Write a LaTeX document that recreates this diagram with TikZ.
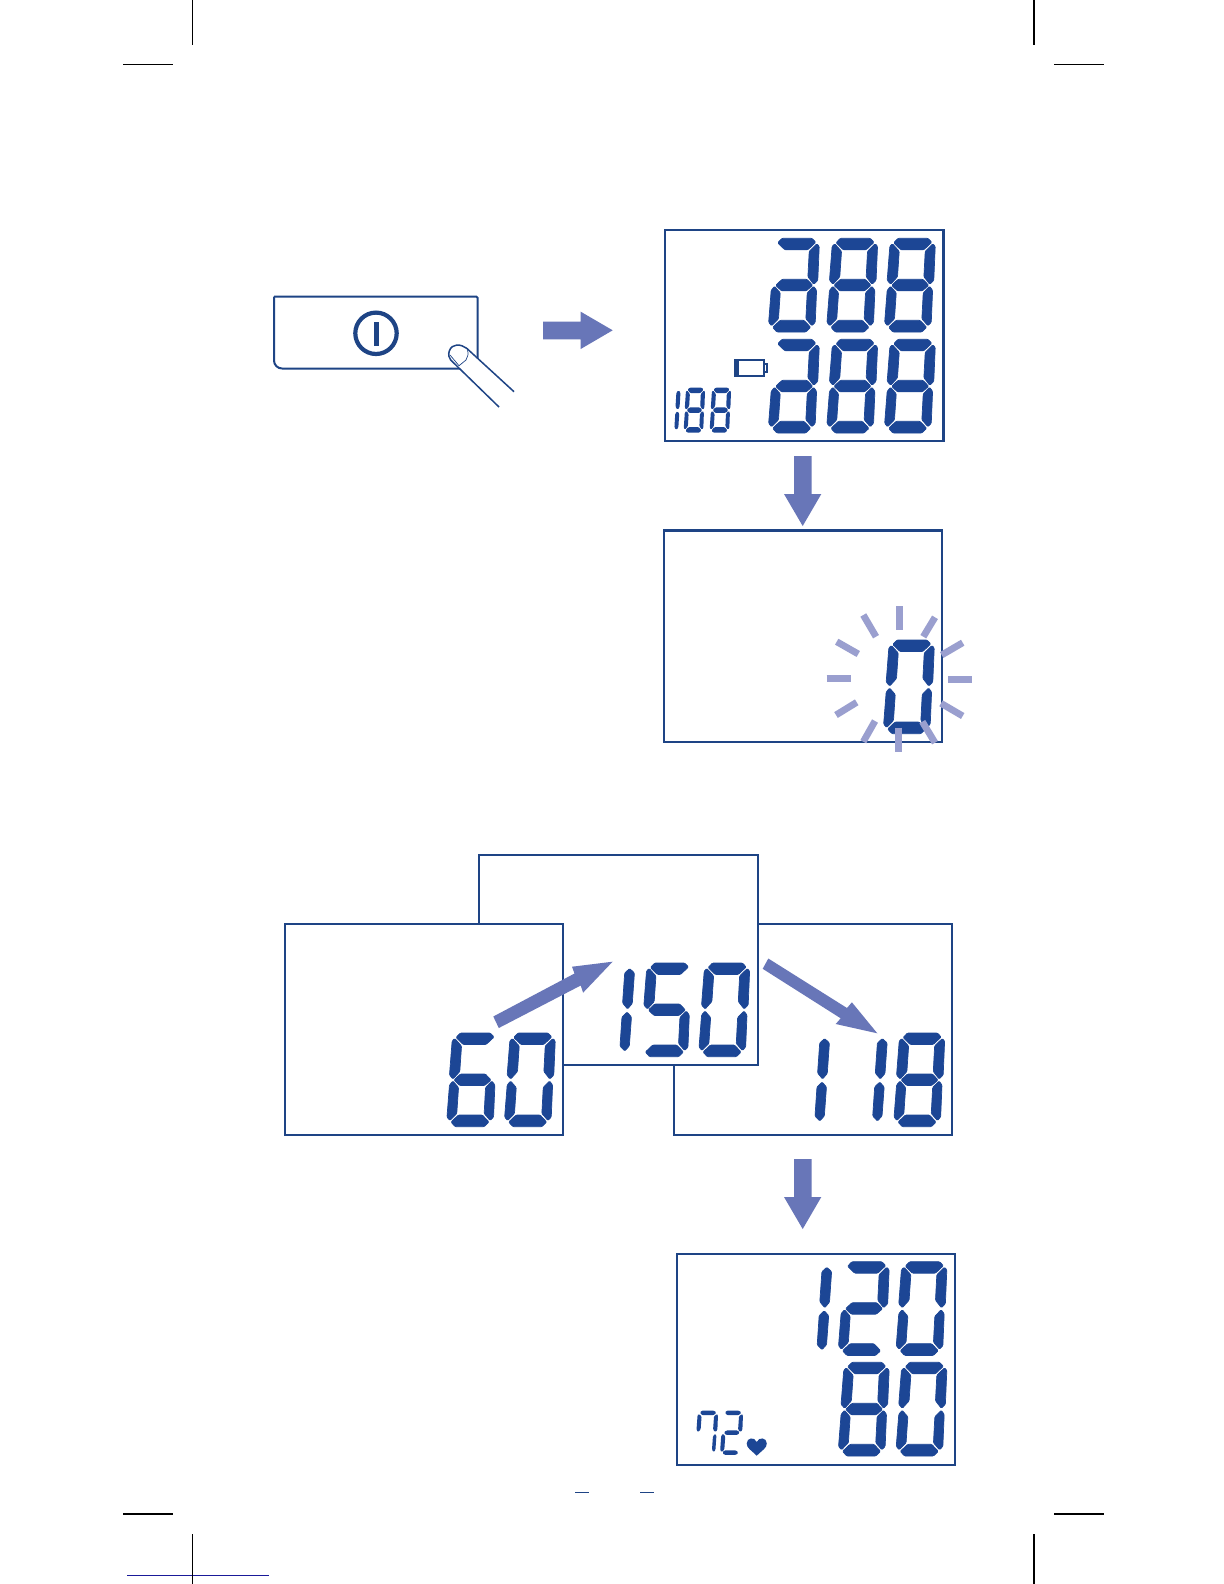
\documentclass[tikz,border=0pt]{standalone}
\definecolor{lcdblue}{HTML}{1C4695}
\definecolor{framecol}{HTML}{1E4485}
\definecolor{arrowcol}{HTML}{6876B8}
\definecolor{raycol}{HTML}{9A9FCF}
\definecolor{rulecol}{HTML}{1A1A99}
\tikzset{
  lcdpanel/.style={draw=framecol,fill=white,line width=1.05bp,line join=miter},
  lcdsegment/.style={fill=lcdblue,rounded corners=.5bp},
  blockarrow/.style={fill=arrowcol},
  flashray/.style={draw=raycol,line width=3.4bp},
  cropmark/.style={draw=black,line width=.55bp},
  fingerline/.style={draw=framecol,fill=white,line width=.75bp,line join=round}
}
% standard segments, local box 46 x 94
\def\lcdsa{(8,0)--(38,0)--(42,4)--(34.5,11.5)--(11.5,11.5)--(4,4.5)--cycle}
\def\lcdsf{(2.8,5.5)--(10,13)--(9.8,38.5)--(3.5,46)--(-.3,42)--(.3,8)--cycle}
\def\lcdsb{(43.2,5.5)--(36,13)--(36.2,38.5)--(42.5,46)--(46.3,42)--(45.7,8)--cycle}
\def\lcdsg{(10.5,41)--(35.5,41)--(41.5,47)--(35.5,52.5)--(10.5,52.5)--(4.5,47)--cycle}
\def\lcdse{(3.5,48)--(9.5,54.5)--(9.3,80.5)--(2.8,87.5)--(-.3,84)--(.3,52)--cycle}
\def\lcdsc{(42.5,48)--(36.5,54.5)--(36.7,80.5)--(43.2,87.5)--(46.3,84)--(45.7,52)--cycle}
\def\lcdsd{(11,82)--(35,82)--(42,89)--(37.5,93.7)--(8.5,93.7)--(4,89)--cycle}
% pointed strokes of a figure one
\def\lcdsp{(41,5.5)--(46,10)--(45.7,40.5)--(41.3,46)--(36,40)--(36.3,10)--cycle}
\def\lcdsq{(41,49)--(45.7,54)--(45.3,83)--(41,88)--(36,83)--(36.2,54)--cycle}
% thin segments for the pulse figure
\def\lcdsA{(8,0)--(38,0)--(43,4.5)--(37,9.5)--(10,9.5)--(5,4.5)--cycle}
\def\lcdsF{(1.5,7)--(9,11.5)--(8.5,40)--(3,45.5)--(-1,41)--(-.5,10)--cycle}
\def\lcdsB{(45,7)--(38,11.5)--(37.5,40)--(43,45.5)--(47.5,41)--(47,10)--cycle}
\def\lcdsG{(10,42)--(37,42)--(41.5,47)--(37,51.5)--(10,51.5)--(5,47)--cycle}
\def\lcdsE{(3,49)--(8.5,54)--(8,83)--(2,88)--(-1.5,84)--(-1,53)--cycle}
\def\lcdsC{(43.5,49)--(38,54)--(37.5,83)--(41.5,88)--(45.5,84)--(46,53)--cycle}
\def\lcdsD{(8,84.5)--(36,84.5)--(41,89.5)--(36,94)--(9,94)--(4,89.5)--cycle}
\newcommand\lcdseg[1]{\expandafter\let\expandafter\lcdcur\csname lcds#1\endcsname\fill[lcdsegment] \lcdcur;}
\newcommand\lcddigit[5]{\begin{scope}[shift={(#1,#2)},xscale=#3,yscale=#4,xslant=.06]
  \foreach \lcdname in {#5}{\lcdseg{\lcdname}}
\end{scope}}
\newcommand\bigdigit[3]{\begingroup\tikzset{lcdsegment/.append style={draw=lcdblue,line width=.35bp,line join=round}}\lcddigit{#1}{#2}{1}{1}{#3}\endgroup}
\newcommand\downarrowblock[1]{\fill[blockarrow] (794,#1)--(811.7,#1)--(811.7,#1+38)--(821.3,#1+38)--(802.7,#1+70)--(784,#1+38)--(794,#1+38)--cycle;}
\begin{document}
\begin{tikzpicture}[x=.5bp,y=-.5bp]
\useasboundingbox (0,0) rectangle (1224,1584);
\fill[white] (0,0) rectangle (1224,1584);

% crop marks
\draw[cropmark] (192.5,0)--(192.5,45);
\draw[cropmark] (1034,0)--(1034,45);
\draw[cropmark] (123,64.3)--(173,64.3);
\draw[cropmark] (1054,64.3)--(1104,64.3);
\draw[cropmark] (123,1514)--(173,1514);
\draw[cropmark] (1054,1514)--(1104,1514);
\draw[cropmark] (1034,1534)--(1034,1584);
\draw[rulecol,line width=.5bp] (127,1575.3)--(269,1575.3);
\draw[cropmark] (192.5,1534)--(192.5,1584);
\draw[framecol,line width=.55bp] (575,1492.3)--(589,1492.3);
\draw[framecol,line width=.55bp] (640,1492.3)--(654,1492.3);

% button
\draw[framecol,line width=1bp,rounded corners=.7bp] (274,296.5)--(477.7,296.5)--(477.7,368.5)--(282,368.5);
\draw[framecol,line width=1bp] (282,368.5) arc[start angle=90,end angle=180,radius=8]--(274,296.5);
\draw[framecol,line width=2.1bp] (376,333.3) circle[radius=20.7];
\fill[framecol] (373.5,321.7) rectangle (378.5,345.7);
\draw[fingerline] (514,391.7)--(466.7,348.3) .. controls (461,344) and (452,343) .. (449.3,351) .. controls (448,355) and (449,358) .. (450.7,360)--(499,407);
\draw[framecol,line width=.35bp] (450,355)--(459,365.7)--(466,360) .. controls (468,357) and (468.5,354) .. (467.5,349.5);

% arrow to first display
\fill[blockarrow] (543,321.7)--(580.7,321.7)--(580.7,311.7)--(612.7,330.3)--(580.7,349)--(580.7,339.3)--(543,339.3)--cycle;

% display: all segments
\draw[lcdpanel] (665,230) rectangle (943.5,441);
\bigdigit{774}{238.3}{a,b,g,e,c,d}
\bigdigit{832.3}{238.3}{a,b,f,g,e,c,d}
\bigdigit{890}{238.3}{a,b,f,g,e,c,d}
\bigdigit{774}{339.3}{a,b,g,e,c,d}
\bigdigit{832.3}{339.3}{a,b,f,g,e,c,d}
\bigdigit{890}{339.3}{a,b,f,g,e,c,d}
\lcddigit{661.4}{387.7}{.42}{.48}{p,q}
\lcddigit{686}{387.7}{.42}{.48}{a,b,f,g,e,c,d}
\lcddigit{712}{387.7}{.42}{.48}{a,b,f,g,e,c,d}
% battery
\draw[framecol,line width=1bp] (735,360) rectangle (763.5,376);
\draw[framecol,line width=1bp] (763.5,364)--(766.5,364)--(766.5,372)--(763.5,372);
\fill[framecol] (735,360) rectangle (738.5,376);

\downarrowblock{456}

% display: flashing zero
\draw[lcdpanel] (664,530.5) rectangle (941.7,741.7);
\bigdigit{889}{640}{a,b,f,e,c,d}
\foreach \xa/\ya/\xb/\yb in {
  899.7/606.3/899.7/630, 935/617.3/923.3/636.7, 962.7/642.7/941.7/655,
  948/679.3/971.7/679.3, 941/703.3/962.7/716, 922.3/721.7/935/742.7,
  898.3/727.7/898.3/751.7, 875/721/863.3/741.7, 856.7/702.3/836/715,
  826.7/678.3/850.7/678.3, 858.3/654/836.7/641.7, 876/636.7/863.3/615}
  {\draw[flashray] (\xa,\ya)--(\xb,\yb);}

% cuff pressure displays
\draw[lcdpanel] (674,924) rectangle (952,1135);
\bigdigit{784}{1033}{p,q}
\bigdigit{841.7}{1033}{p,q}
\bigdigit{899.4}{1033}{a,b,f,g,e,c,d}
\draw[lcdpanel] (479,855) rectangle (758,1065.3);
\bigdigit{589}{963}{p,q}
\bigdigit{646.7}{963}{a,f,g,c,d}
\bigdigit{704.4}{963}{a,b,f,e,c,d}
\draw[lcdpanel] (285,924) rectangle (563,1135);
\bigdigit{452.3}{1033}{a,f,g,e,c,d}
\bigdigit{510}{1033}{a,b,f,e,c,d}
\fill[blockarrow] (493.3,1016.5)--(574.5,973.5)--(572,966.7)--(612.6,961.7)--(583.1,992.7)--(580.7,985.5)--(498.8,1028)--cycle;
\fill[blockarrow] (768.3,958.5)--(847,1008)--(851.9,1002.3)--(877.3,1033.3)--(835.7,1024)--(840.7,1018.3)--(762.7,968.8)--cycle;

\downarrowblock{1159}

% result display
\draw[lcdpanel] (676.7,1254) rectangle (955.3,1465);
\bigdigit{786.2}{1261.7}{p,q}
\bigdigit{843.9}{1261.7}{a,b,g,e,d}
\bigdigit{901.6}{1261.7}{a,b,f,e,c,d}
\bigdigit{843.9}{1362.3}{a,b,f,g,e,c,d}
\bigdigit{901.6}{1362.3}{a,b,f,e,c,d}
\lcddigit{698}{1410.7}{.43}{.47}{A,F,B,C}
\lcddigit{723}{1410.7}{.43}{.47}{A,B,G,E,D}
% heart
\fill[lcdblue] (756.7,1455.7) .. controls (751,1450) and (746.7,1448) .. (746.7,1443.5) .. controls (746.7,1437.5) and (754.5,1436.5) .. (756.7,1442) .. controls (759,1436.5) and (766.8,1437.5) .. (766.8,1443.5) .. controls (766.8,1448) and (762.5,1450) .. (756.7,1455.7) -- cycle;
\end{tikzpicture}
\end{document}
